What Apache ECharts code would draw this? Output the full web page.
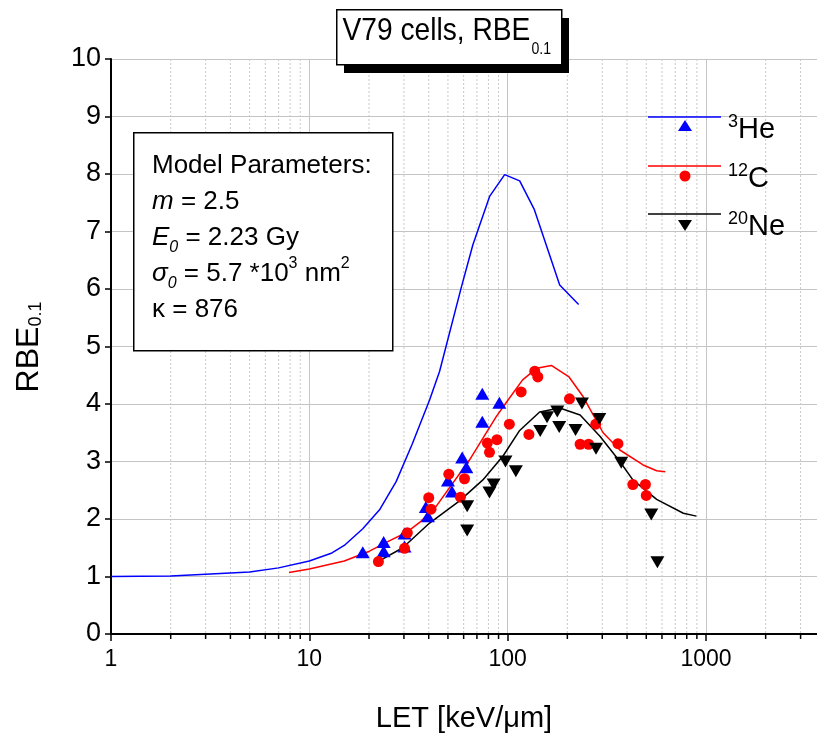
<!DOCTYPE html>
<html><head><meta charset="utf-8">
<script src="https://cdn.jsdelivr.net/npm/echarts@6/dist/echarts.min.js"></script>
<style>html,body{margin:0;padding:0;background:#fff}#c{width:817px;height:739px}</style>
</head><body><div id="c"></div>
<script>
// ---- data ----
const heCurveX = [1, 2, 3, 5, 7, 10, 13, 15, 18.6, 22.6, 27.4, 33, 40.4, 45.4, 58.3, 66.8, 81.1, 96.6, 115, 136, 183, 228];
const heCurveY = [1.0, 1.01, 1.04, 1.08, 1.15, 1.27, 1.41, 1.54, 1.83, 2.16, 2.65, 3.3, 4.07, 4.57, 6.02, 6.77, 7.61, 7.99, 7.88, 7.39, 6.07, 5.73];
const cCurveX = [7.9, 10, 15, 20.1, 25.3, 30.7, 36, 43.6, 64.3, 87.6, 100.5, 119, 140, 166, 204, 240, 303, 368, 482, 564, 624];
const cCurveY = [1.07, 1.13, 1.27, 1.44, 1.62, 1.76, 1.94, 2.22, 3.03, 3.78, 4.07, 4.42, 4.62, 4.67, 4.47, 4.13, 3.5, 3.2, 2.94, 2.84, 2.82];
const neCurveX = [22.2, 29.6, 40.4, 57, 75, 95, 115, 145, 183, 232, 292, 368, 428, 564, 769, 895];
const neCurveY = [1.26, 1.5, 1.93, 2.31, 2.68, 3.1, 3.54, 3.86, 3.93, 3.81, 3.44, 3.0, 2.68, 2.34, 2.1, 2.05];

const hePtsX = [18.6, 23.7, 23.7, 30.2, 30.2, 38.7, 39.6, 50, 52.4, 59, 61.9, 74.5, 74.5, 90.8];
const hePtsY = [1.42, 1.6, 1.44, 1.75, 1.52, 2.21, 2.05, 2.67, 2.48, 3.07, 2.9, 4.18, 3.69, 4.02];
const cPtsX = [22.3, 30.2, 31.2, 40, 41.1, 50.5, 57.8, 60.6, 79, 81, 88.3, 102, 117, 128, 137, 142, 205, 232, 256, 278, 360, 428, 495, 500];
const cPtsY = [1.26, 1.49, 1.76, 2.37, 2.17, 2.78, 2.38, 2.7, 3.32, 3.16, 3.38, 3.65, 4.21, 3.47, 4.57, 4.47, 4.09, 3.3, 3.3, 3.65, 3.31, 2.6, 2.6, 2.41];
const nePtsX = [62.5, 62.5, 81, 85, 97.5, 110, 146, 158, 178, 182, 220, 237, 279, 290, 374, 530, 569];
const nePtsY = [2.22, 1.8, 2.46, 2.6, 3.0, 2.83, 3.53, 3.77, 3.87, 3.6, 3.55, 4.01, 3.22, 3.74, 2.98, 2.08, 1.25];

const minorTickValues = [2,3,4,5,6,7,8,9,20,30,40,50,60,70,80,90,200,300,400,500,600,700,800,900,2000,3000];
const xMin = 1, xMax = 3630;
const yMin = 0, yMax = 10, yInterval = 1;

const seriesNames = ['³He', '¹²C', '²⁰Ne'];

const zip = (a, b) => a.map((v, i) => [v, b[i]]);
const FN = 'Liberation Sans, Arial, sans-serif';

const chart = echarts.init(document.getElementById('c'), null, {renderer: 'canvas'});

const legendY = [117, 166, 214];
const colors = ['#0000ff', '#ff0000', '#000000'];

const graphics = [
  // title box shadow + box
  {type: 'rect', left: 344, top: 18, shape: {width: 225, height: 55}, style: {fill: '#000'}, z: 100},
  {type: 'rect', left: 336, top: 9, shape: {width: 225, height: 55}, style: {fill: '#fff', stroke: '#000', lineWidth: 1.5}, z: 101},
  {type: 'text', x: 342.5, y: 31, scaleX: 0.88, z: 102, style: {
    text: 'V79 cells, RBE', fontFamily: FN, fontSize: 32, fill: '#000', align: 'left', verticalAlign: 'middle'}},
  {type: 'text', x: 531.5, y: 49.5, scaleX: 0.88, z: 102, style: {
    text: '0.1', fontFamily: FN, fontSize: 16, fill: '#000', align: 'left', verticalAlign: 'middle'}},
  // params box
  {type: 'rect', left: 133, top: 132, shape: {width: 259, height: 218}, style: {fill: '#fff', stroke: '#000', lineWidth: 1.5}, z: 100},
  {type: 'text', left: 152, top: 148, z: 101, style: {
    text: [
      '{n|Model Parameters:}',
      '{i|m}{n| = 2.5}',
      '{i|E}{s|0}{n| = 2.23 Gy}',
      '{i|σ}{s|0}{n| = 5.7 *10}{p|3}{n| nm}{p|2}',
      '{n|κ = 876}'
    ].join('\n'),
    lineHeight: 36,
    rich: {
      n: {fontFamily: FN, fontSize: 26, fill: '#000', lineHeight: 36},
      i: {fontFamily: FN, fontSize: 26, fontStyle: 'italic', fill: '#000', lineHeight: 36},
      s: {fontFamily: FN, fontSize: 16, fontStyle: 'italic', fill: '#000', verticalAlign: 'bottom', lineHeight: 36, padding: [12, 0, 0, 0]},
      p: {fontFamily: FN, fontSize: 16, fill: '#000', verticalAlign: 'top', lineHeight: 36, padding: [0, 0, 12, 0]}
    }
  }},
  // y axis name
  {type: 'text', x: 29, y: 347, rotation: Math.PI / 2, z: 50, style: {
    text: '{a|RBE}{b|0.1}', align: 'center', verticalAlign: 'middle',
    rich: {a: {fontFamily: FN, fontSize: 32, fill: '#000'}, b: {fontFamily: FN, fontSize: 18, fill: '#000', verticalAlign: 'bottom', padding: [14, 0, 0, 0]}}
  }}
];

// legend
const legendLabels = [['3', 'He'], ['12', 'C'], ['20', 'Ne']];
for (let i = 0; i < 3; i++) {
  const y = legendY[i];
  graphics.push({type: 'line', shape: {x1: 648, y1: y, x2: 721, y2: y}, style: {stroke: colors[i], lineWidth: 1.5}, z: 50});
  if (i === 0) graphics.push({type: 'polygon', shape: {points: [[685, y + 3], [692, y + 14], [678, y + 14]]}, style: {fill: colors[i]}, z: 50});
  if (i === 1) graphics.push({type: 'circle', shape: {cx: 685, cy: y + 10, r: 5.5}, style: {fill: colors[i]}, z: 50});
  if (i === 2) graphics.push({type: 'polygon', shape: {points: [[678, y + 6], [692, y + 6], [685, y + 17]]}, style: {fill: colors[i]}, z: 50});
  graphics.push({type: 'text', left: 728, top: y - 4, z: 50, style: {
    text: '{p|' + legendLabels[i][0] + '}{t|' + legendLabels[i][1] + '}',
    rich: {t: {fontFamily: FN, fontSize: 29, fill: '#000', lineHeight: 34}, p: {fontFamily: FN, fontSize: 18, fill: '#000', verticalAlign: 'top', lineHeight: 34}}
  }});
}

const option = {
  animation: false,
  backgroundColor: '#fff',
  grid: {left: 111, top: 59, right: 0, bottom: 105, containLabel: false},
  xAxis: {
    type: 'log', logBase: 10, min: xMin, max: xMax,
    axisLine: {show: true, onZero: false, lineStyle: {color: '#000', width: 2}},
    axisTick: {show: true, length: 7, inside: false, lineStyle: {color: '#000', width: 1.5}},
    axisLabel: {fontFamily: FN, fontSize: 23, color: '#000', margin: 14, showMaxLabel: false,
      formatter: v => String(Math.round(v))},
    splitLine: {show: true, lineStyle: {color: '#c4c4c4', width: 1}},
    name: 'LET [keV/μm]', nameLocation: 'middle', nameGap: 70,
    nameTextStyle: {fontFamily: FN, fontSize: 29, color: '#000'}
  },
  yAxis: {
    type: 'value', min: yMin, max: yMax, interval: yInterval,
    axisLine: {show: true, onZero: false, lineStyle: {color: '#000', width: 2}},
    axisTick: {show: true, length: 6, inside: false, lineStyle: {color: '#000', width: 1.5}},
    axisLabel: {fontFamily: FN, fontSize: 27, color: '#000', margin: 10},
    splitLine: {show: true, lineStyle: {color: '#c4c4c4', width: 1}}
  },
  graphic: graphics,
  series: [
    {
      type: 'custom', name: 'minor', silent: true, clip: false, z: 1,
      data: minorTickValues.map(v => [v, 0]),
      renderItem: (params, api) => {
        const v = api.value(0);
        const top = api.coord([v, yMax]);
        const bot = api.coord([v, yMin]);
        return {type: 'group', children: [
          {type: 'line', shape: {x1: bot[0], y1: top[1], x2: bot[0], y2: bot[1]}, style: {stroke: '#c8c8c8', lineWidth: 1, lineDash: [2, 2]}},
          {type: 'line', shape: {x1: bot[0], y1: bot[1], x2: bot[0], y2: bot[1] + 5}, style: {stroke: '#000', lineWidth: 1.5}}
        ]};
      }
    },
    {type: 'line', name: seriesNames[0], data: zip(heCurveX, heCurveY), symbol: 'none', lineStyle: {color: colors[0], width: 1.5}, z: 3},
    {type: 'line', name: seriesNames[1], data: zip(cCurveX, cCurveY), symbol: 'none', lineStyle: {color: colors[1], width: 1.5}, z: 3},
    {type: 'line', name: seriesNames[2], data: zip(neCurveX, neCurveY), symbol: 'none', lineStyle: {color: colors[2], width: 1.5}, z: 3},
    {type: 'scatter', name: seriesNames[0] + ' data', data: zip(hePtsX, hePtsY), symbol: 'triangle', symbolSize: [14, 12], itemStyle: {color: colors[0], opacity: 1}, z: 4},
    {type: 'scatter', name: seriesNames[1] + ' data', data: zip(cPtsX, cPtsY), symbol: 'circle', symbolSize: 11, itemStyle: {color: colors[1], opacity: 1}, z: 4},
    {type: 'scatter', name: seriesNames[2] + ' data', data: zip(nePtsX, nePtsY), symbol: 'triangle', symbolRotate: 180, symbolSize: [14, 12], itemStyle: {color: colors[2], opacity: 1}, z: 4}
  ]
};
chart.setOption(option);
</script>
</body></html>
